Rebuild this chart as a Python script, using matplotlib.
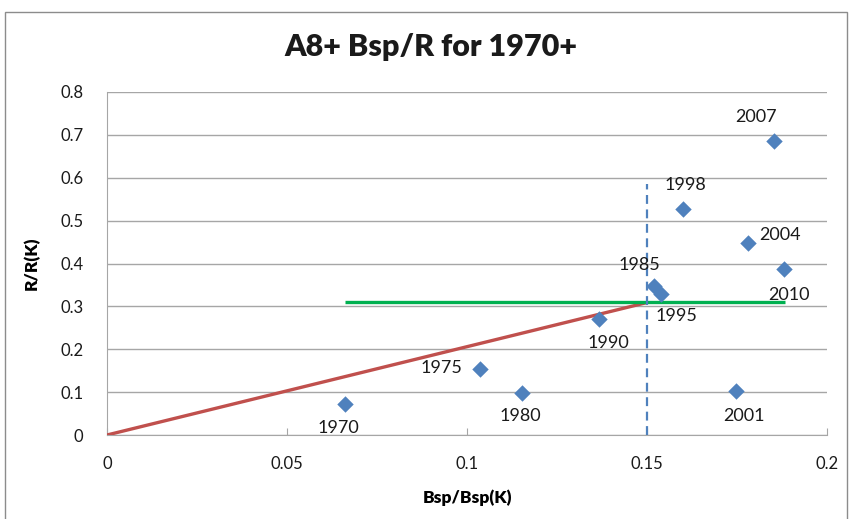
import matplotlib
matplotlib.use("Agg")
import matplotlib.pyplot as plt
from matplotlib.patches import Rectangle

years = ["1970", "1975", "1980", "1985", "1990", "1995", "1998", "2001", "2004", "2007", "2010"]
bsp = [0.0661, 0.1037, 0.1152, 0.1520, 0.1367, 0.1540, 0.1600, 0.1747, 0.1780, 0.1853, 0.1880]
r = [0.0716, 0.153, 0.097, 0.347, 0.2706, 0.329, 0.527, 0.103, 0.448, 0.686, 0.387]

# label offsets in points (dx, dy) relative to each point
label_offsets = {
    "1970": (-5, -17), "1975": (-28, 1), "1980": (-1, -16), "1985": (-11, 15),
    "1990": (7, -17), "1995": (11, -16), "1998": (2, 17), "2001": (6, -18),
    "2004": (23, 6), "2007": (-13, 17), "2010": (4, -19),
}

red_x = [0.0, 0.15]
red_y = [0.0, 0.309]
green_x = [0.0661, 0.1883]
green_y = [0.311, 0.311]
dash_x = [0.15, 0.15]
dash_y = [0.0, 0.585]

FONT = ["Lato", "DejaVu Sans"]
plt.rcParams["font.family"] = FONT

fig = plt.figure(figsize=(8.5, 5.19), dpi=100)
ax = fig.add_axes([107 / 850, 1 - 435 / 519, 720 / 850, 343 / 519])

# outer chart border
fig.patches.append(Rectangle((5 / 850, -0.05), 842 / 850, 1.05 - 12 / 519,
                             transform=fig.transFigure, fill=False,
                             edgecolor="#8c8c8c", linewidth=1.0))

ax.set_xlim(0, 0.2)
ax.set_ylim(0, 0.8)
ax.set_xticks([0, 0.05, 0.1, 0.15, 0.2])
ax.set_xticklabels(["0", "0.05", "0.1", "0.15", "0.2"])
ax.set_yticks([0, 0.1, 0.2, 0.3, 0.4, 0.5, 0.6, 0.7, 0.8])
ax.set_yticklabels(["0", "0.1", "0.2", "0.3", "0.4", "0.5", "0.6", "0.7", "0.8"])

ax.yaxis.grid(True, color="#a6a6a6", linewidth=1.0)
ax.set_axisbelow(True)
for s in ["top", "right"]:
    ax.spines[s].set_visible(False)
ax.spines["left"].set_color("#a6a6a6")
ax.spines["bottom"].set_color("#a6a6a6")
ax.tick_params(axis="x", direction="in", length=5, color="#a6a6a6", labelsize=12, pad=15, labelcolor="#1a1a1a")
ax.tick_params(axis="y", length=0, labelsize=12, pad=17, labelcolor="#1a1a1a")

ax.plot(red_x, red_y, color="#C0504D", linewidth=2.4, solid_capstyle="butt", zorder=3)
ax.plot(green_x, green_y, color="#00B050", linewidth=2.4, solid_capstyle="butt", zorder=3)
ax.plot(dash_x, dash_y, color="#4F81BD", linewidth=1.6, linestyle=(0, (4, 2.5)), zorder=3)

ax.scatter(bsp, r, marker="D", s=70, color="#4F81BD", zorder=4, linewidths=0)

for y, xv, yv in zip(years, bsp, r):
    dx, dy = label_offsets[y]
    ax.annotate(y, (xv, yv), xytext=(dx, dy), textcoords="offset points",
                ha="center", va="center", fontsize=13, color="#1a1a1a")

ax.set_xlabel("Bsp/Bsp(K)", fontsize=12.5, fontweight="heavy", labelpad=13)
ax.set_ylabel("R/R(K)", fontsize=12.5, fontweight="heavy", labelpad=15)
fig.text(431 / 850, 1 - 47 / 519, "A8+ Bsp/R for 1970+", ha="center", va="center",
         fontsize=22, fontweight="heavy", color="#1a1a1a")

fig.savefig("out.png", dpi=100)
